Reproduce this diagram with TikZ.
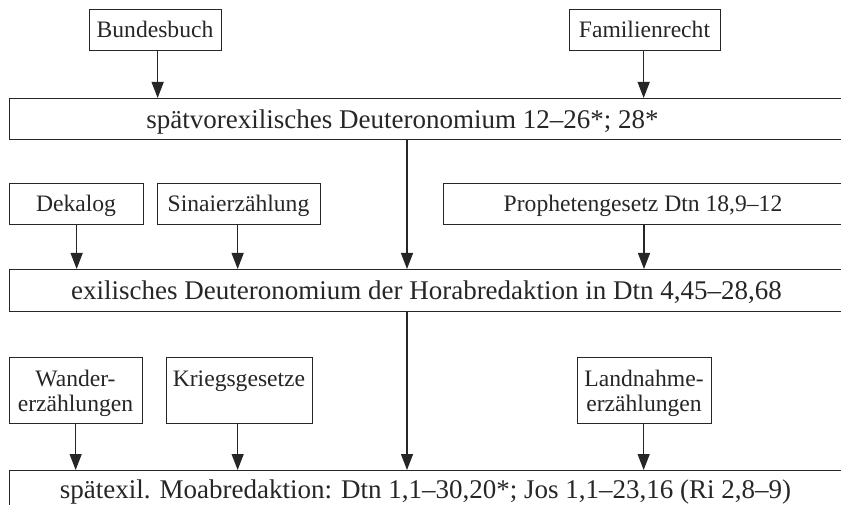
\documentclass[tikz,border=0pt]{standalone}
\usepackage{fontspec}
\setmainfont{Liberation Serif}
\usetikzlibrary{arrows.meta}
\definecolor{ink}{HTML}{262626}
\tikzset{
  box/.style={draw=ink, line width=1.3pt, rectangle, inner sep=0pt, anchor=north west},
  small/.style={font=\fontsize{23.6}{27}\selectfont, text=ink, inner sep=0pt, anchor=base},
  big/.style={font=\fontsize{27}{31}\selectfont, text=ink, inner sep=0pt, anchor=base},
  arr/.style={draw=ink, line width=1.3pt, -{Triangle[length=16pt,width=12pt]}},
}
\begin{document}
\begin{tikzpicture}[x=1pt,y=-1pt]
\useasboundingbox (0,0) rectangle (841,505);
\begin{scope}
\clip (0,0) rectangle (841,505);
% top row
\node[box, minimum width=132pt, minimum height=41pt] (bund) at (89,9) {};
\node[small] (bundT) at (155,38) {Bundesbuch};
\node[box, minimum width=151pt, minimum height=41pt] (fam) at (569,9) {};
\node[small] (famT) at (644.5,38) {Familienrecht};
% box 1
\node[box, minimum width=841pt, minimum height=41pt] (b1) at (9,98) {};
\node[big] (t1) at (402.5,129) {spätvorexilisches Deuteronomium 12–26*; 28*};
% second row
\node[box, minimum width=134pt, minimum height=41pt] (dek) at (9,183) {};
\node[small] (dekT) at (76,212) {Dekalog};
\node[box, minimum width=163pt, minimum height=41pt] (sin) at (157,183) {};
\node[small] (sinT) at (238.5,212) {Sinaierzählung};
\node[box, minimum width=400pt, minimum height=41pt] (pro) at (443,183) {};
\node[small] (proT) at (643,212) {Prophetengesetz Dtn 18,9–12};
% box 2
\node[box, minimum width=841pt, minimum height=42pt] (b2) at (9,269) {};
\node[big] (t2) at (426.5,299) {exilisches Deuteronomium der Horabredaktion in Dtn 4,45–28,68};
% third row
\node[box, minimum width=133pt, minimum height=66pt] (wan) at (9,357) {};
\node[small] (wanT1) at (75.5,386) {Wander-};
\node[small] (wanT2) at (75.5,411) {erzählungen};
\node[box, minimum width=146pt, minimum height=66pt] (krg) at (166,357) {};
\node[small] (krgT) at (239,386) {Kriegsgesetze};
\node[box, minimum width=134pt, minimum height=66pt] (lan) at (577,357) {};
\node[small] (lanT1) at (644,386) {Landnahme-};
\node[small] (lanT2) at (644,411) {erzählungen};
% box 3
\node[box, minimum width=841pt, minimum height=41pt] (b3) at (9,470) {};
\node[big] (t3) at (425.5,498) {spätexil. Moabredaktion: Dtn 1,1–30,20*; Jos 1,1–23,16 (Ri 2,8–9)};
% arrows
\draw[arr] ([xshift=2pt]bund.south) -- ([xshift=2pt]bund.south |- b1.north);
\draw[arr] ([xshift=-1.5pt]fam.south) -- ([xshift=-1.5pt]fam.south |- b1.north);
\draw[arr] ([xshift=398pt]b1.south west) -- ([xshift=398pt]b1.south west |- b2.north);
\draw[arr] (dek.south) -- (dek.south |- b2.north);
\draw[arr] ([xshift=-1.5pt]sin.south) -- ([xshift=-1.5pt]sin.south |- b2.north);
\draw[arr] ([xshift=201pt]pro.south west) -- ([xshift=201pt]pro.south west |- b2.north);
\draw[arr] ([xshift=398pt]b2.south west) -- ([xshift=398pt]b2.south west |- b3.north);
\draw[arr] ([xshift=-0.5pt]wan.south) -- ([xshift=-0.5pt]wan.south |- b3.north);
\draw[arr] ([xshift=-2pt]krg.south) -- ([xshift=-2pt]krg.south |- b3.north);
\draw[arr] ([xshift=-1pt]lan.south) -- ([xshift=-1pt]lan.south |- b3.north);
\end{scope}
\end{tikzpicture}
\end{document}
